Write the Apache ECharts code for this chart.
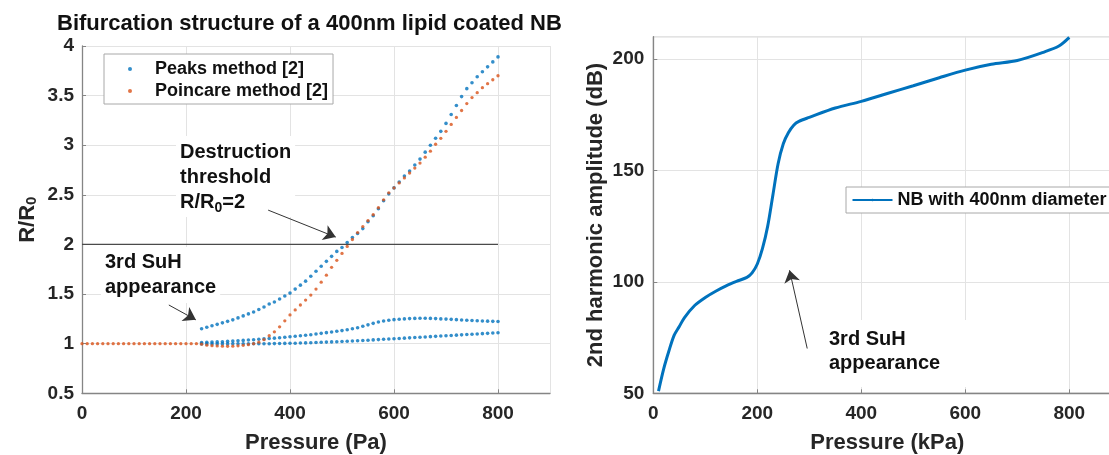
<!DOCTYPE html>
<html>
<head>
<meta charset="utf-8">
<script src="https://cdn.jsdelivr.net/npm/echarts@6.0.0/dist/echarts.min.js"></script>
<style>
html, body { margin: 0; padding: 0; background: #fff; }
#main { width: 1109px; height: 455px; }
</style>
</head>
<body>
<div id="main"></div>
<script>
// left panel: bifurcation (R/R0 vs pressure)
var peaksPressure = [230,240,250,260,270,280,290,300,310,320,330,340,350,360,370,380,390,400,410,420,
  430,440,450,460,470,480,490,500,510,520,530,540,550,560,570,580,590,600,610,620,
  630,640,650,660,670,680,690,700,710,720,730,740,750,760,770,780,790,800];
var peaksUpper = [1.15,1.165,1.18,1.195,1.21,1.225,1.24,1.26,1.28,1.30,
  1.32,1.345,1.37,1.40,1.42,1.45,1.48,1.51,1.55,1.59,
  1.63,1.68,1.73,1.78,1.83,1.88,1.93,1.97,2.02,2.07,
  2.11,2.16,2.23,2.29,2.36,2.44,2.51,2.57,2.63,2.69,
  2.74,2.80,2.86,2.93,3.00,3.07,3.14,3.22,3.31,3.40,
  3.49,3.57,3.63,3.69,3.74,3.79,3.84,3.89];
var peaksMiddle = [1.012,1.014,1.016,1.018,1.02,1.023,1.026,1.03,1.033,1.037,
  1.04,1.044,1.048,1.052,1.056,1.06,1.065,1.07,1.075,1.08,
  1.085,1.09,1.097,1.104,1.111,1.118,1.125,1.132,1.14,1.15,
  1.16,1.175,1.19,1.205,1.218,1.228,1.236,1.242,1.247,1.25,
  1.253,1.255,1.256,1.256,1.255,1.253,1.25,1.248,1.245,1.242,
  1.239,1.236,1.233,1.231,1.229,1.227,1.225,1.224];
var peaksLower = [0.998,0.998,0.998,0.998,0.998,0.998,0.999,0.999,0.999,0.999,
  1.0,1.0,1.0,1.0,1.001,1.002,1.003,1.004,1.005,1.007,
  1.008,1.01,1.012,1.014,1.016,1.018,1.02,1.022,1.025,1.027,
  1.03,1.032,1.035,1.038,1.041,1.044,1.047,1.05,1.053,1.056,
  1.059,1.062,1.065,1.068,1.071,1.074,1.077,1.08,1.083,1.086,
  1.089,1.092,1.095,1.098,1.101,1.104,1.107,1.11];

var poincarePressure = [0,10,20,30,40,50,60,70,80,90,100,110,120,130,140,150,160,170,180,190,200,210,220,
  230,240,250,260,270,280,290,300,310,320,330,340,350,360,370,380,390,400,410,420,
  430,440,450,460,470,480,490,500,510,520,530,540,550,560,570,580,590,600,610,620,
  630,640,650,660,670,680,690,700,710,720,730,740,750,760,770,780,790,800];
var poincareRatio = [1,1,1,1,1,1,1,1,1,1,1,1,1,1,1,1,1,1,1,1,1,1,1,
  0.995,0.985,0.98,0.977,0.975,0.974,0.975,0.978,0.983,0.99,
  1.0,1.015,1.04,1.08,1.12,1.17,1.23,1.29,1.34,1.39,
  1.44,1.49,1.55,1.62,1.69,1.77,1.84,1.91,1.98,2.05,
  2.12,2.18,2.24,2.30,2.37,2.45,2.52,2.57,2.62,2.67,
  2.72,2.77,2.82,2.88,2.94,3.01,3.07,3.14,3.21,3.28,
  3.35,3.42,3.48,3.53,3.58,3.62,3.66,3.70];

var thresholdPressure = [0, 800];
var thresholdRatio = [2, 2];

// right panel: 2nd harmonic amplitude
var harmonicPressure = [10,20,30,40,50,60,80,100,120,140,160,180,190,200,210,220,230,240,250,260,270,280,
  300,350,400,450,500,550,600,650,700,750,780,800];
var harmonicDb = [51,61,69,76,80,84,89.5,93,95.8,98.2,100.2,102,104,108,115,125,139,153,162,167,170.3,172,
  173.8,178,181,184.5,188,191.6,195,197.6,199.3,203,205.8,209.7];

var TXT = '#262626';
var FONT = 'Arial, "Liberation Sans", Helvetica, sans-serif';

function pairs(xs, ys) {
  var out = [];
  for (var i = 0; i < xs.length; i++) out.push([xs[i], ys[i]]);
  return out;
}

var peaksData = pairs(peaksPressure, peaksUpper)
  .concat(pairs(peaksPressure, peaksMiddle))
  .concat(pairs(peaksPressure, peaksLower));

function axisCommon() {
  return {
    type: 'value',
    axisLine: { show: true, lineStyle: { color: '#858585', width: 1.3 } },
    axisTick: { show: true, inside: true, length: 4, lineStyle: { color: '#858585' } },
    splitLine: { show: true, lineStyle: { color: '#e3e3e3', width: 1 } },
    axisLabel: { color: TXT, fontSize: 19, fontWeight: 'bold', fontFamily: FONT, showMaxLabel: false },
    nameTextStyle: { color: TXT, fontSize: 22, fontWeight: 'bold', fontFamily: FONT }
  };
}

function xAxisOpt(grid, name) {
  var a = axisCommon();
  a.gridIndex = grid;
  a.min = 0; a.max = 900; a.interval = 200;
  a.name = name; a.nameLocation = 'middle'; a.nameGap = 39;
  a.axisLabel.margin = 11;
  return a;
}

var yLeft = axisCommon();
yLeft.gridIndex = 0;
yLeft.min = 0.5; yLeft.max = 4; yLeft.interval = 0.5;
yLeft.axisLabel.margin = 8;
yLeft.axisLabel.showMaxLabel = true;
yLeft.name = 'R/R{s|0}';
yLeft.nameLocation = 'middle';
yLeft.nameGap = 43;
yLeft.nameTextStyle.rich = {
  s: { fontSize: 15, fontWeight: 'bold', fontFamily: FONT, color: TXT, verticalAlign: 'bottom', lineHeight: 15, padding: [10, 0, 0, 0] }
};

var yRight = axisCommon();
yRight.gridIndex = 1;
yRight.min = 50; yRight.max = 210; yRight.interval = 50;
yRight.axisLabel.margin = 9;
yRight.name = '2nd harmonic amplitude (dB)';
yRight.nameLocation = 'middle';
yRight.nameGap = 46;

var arrowStyle = {
  silent: true,
  symbol: ['none', 'arrow'],
  symbolSize: 12,
  label: { show: false },
  lineStyle: { color: '#333', width: 1, type: 'solid' },
  itemStyle: { color: '#111' }
};

var myChart = echarts.init(document.getElementById('main'));

var option = {
  animation: false,
  backgroundColor: '#fff',
  title: {
    text: 'Bifurcation structure of a 400nm lipid coated NB',
    left: 52, top: 8,
    textStyle: { color: '#111', fontSize: 22, fontWeight: 'bold', fontFamily: FONT }
  },
  grid: [
    { left: 82, top: 46, width: 468, height: 347.3, outerBoundsMode: 'none' },
    { left: 653.3, top: 36.7, width: 468, height: 356.6, outerBoundsMode: 'none',
      show: true, borderColor: '#9a9a9a', borderWidth: 1, backgroundColor: 'transparent' }
  ],
  xAxis: [xAxisOpt(0, 'Pressure (Pa)'), xAxisOpt(1, 'Pressure (kPa)')],
  yAxis: [yLeft, yRight],
  legend: [
    {
      data: ['Peaks method [2]', 'Poincare method [2]'],
      orient: 'vertical',
      left: 104, top: 54,
      padding: [5, 5, 3, 24],
      itemGap: 2,
      itemWidth: 4, itemHeight: 4,
      borderColor: '#a8a8a8', borderWidth: 1, backgroundColor: '#fff',
      textStyle: { color: '#111', fontSize: 18, fontWeight: 'bold', fontFamily: FONT, lineHeight: 20, padding: [0, 0, 0, 18] }
    },
    {
      data: ['NB with 400nm diameter'],
      left: 846, top: 187,
      padding: [3, 5, 3, 5.5],
      itemWidth: 40, itemHeight: 3,
      borderColor: '#a8a8a8', borderWidth: 1, backgroundColor: '#fff',
      textStyle: { color: '#111', fontSize: 18, fontWeight: 'bold', fontFamily: FONT, lineHeight: 20 }
    }
  ],
  series: [
    {
      name: 'threshold',
      type: 'line',
      xAxisIndex: 0, yAxisIndex: 0,
      data: pairs(thresholdPressure, thresholdRatio),
      showSymbol: false, symbol: 'none',
      lineStyle: { color: '#4a4a4a', width: 1.3 },
      silent: true,
      markLine: Object.assign({}, arrowStyle, {
        data: [
          [{ coord: [358, 2.346] }, { coord: [488, 2.074] }],
          [{ coord: [167, 1.39] }, { coord: [219, 1.24] }]
        ]
      })
    },
    {
      name: 'Peaks method [2]',
      type: 'scatter',
      xAxisIndex: 0, yAxisIndex: 0,
      data: peaksData,
      symbolSize: 3.6,
      itemStyle: { color: '#0072BD' }
    },
    {
      name: 'Poincare method [2]',
      type: 'scatter',
      xAxisIndex: 0, yAxisIndex: 0,
      data: pairs(poincarePressure, poincareRatio),
      symbolSize: 3.3,
      itemStyle: { color: '#D95319' }
    },
    {
      name: 'NB with 400nm diameter',
      type: 'line',
      xAxisIndex: 1, yAxisIndex: 1,
      data: pairs(harmonicPressure, harmonicDb),
      smooth: 0.3,
      showSymbol: false, symbol: 'none',
      lineStyle: { color: '#0072BD', width: 3 },
      itemStyle: { color: '#0072BD' },
      markLine: Object.assign({}, arrowStyle, {
        data: [
          [{ coord: [296, 70.1] }, { coord: [262, 105.2] }]
        ]
      })
    }
  ],
  graphic: [
    {
      type: 'text', left: 176, top: 136, z: 1,
      style: {
        text: 'Destruction\nthreshold\nR/R{s|0}=2',
        fill: '#111', font: 'bold 20px ' + FONT, lineHeight: 25,
        backgroundColor: '#fff', padding: [4, 4, 2, 4],
        rich: { s: { fill: '#111', font: 'bold 14px ' + FONT, verticalAlign: 'bottom', lineHeight: 14, padding: [9, 0, 0, 0] } }
      }
    },
    {
      type: 'text', left: 101, top: 247, z: 1,
      style: { text: '3rd SuH\nappearance', fill: '#111', font: 'bold 20px ' + FONT, lineHeight: 25,
        backgroundColor: '#fff', padding: [3, 4, 3, 4] }
    },
    {
      type: 'text', left: 823, top: 320, z: 1,
      style: { text: '3rd SuH\nappearance', fill: '#111', font: 'bold 20px ' + FONT, lineHeight: 24,
        backgroundColor: '#fff', padding: [7, 70, 12, 6] }
    }
  ]
};

myChart.setOption(option);
</script>
</body>
</html>
